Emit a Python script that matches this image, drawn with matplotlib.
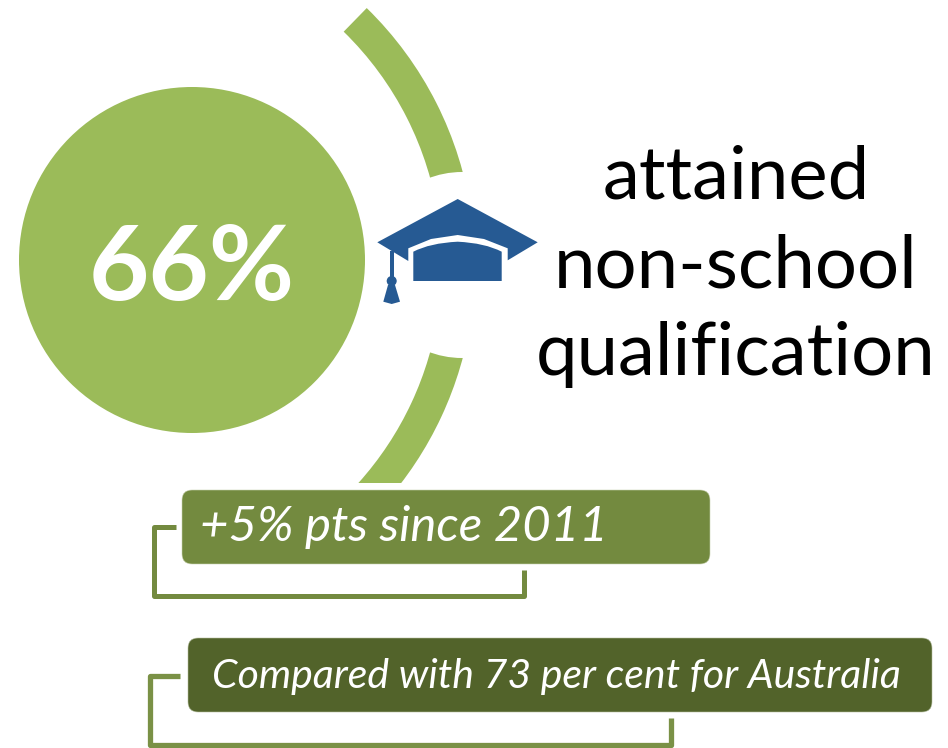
import matplotlib.pyplot as plt
from matplotlib.patches import Circle, Wedge, Polygon, FancyBboxPatch, Rectangle, PathPatch
from matplotlib.path import Path

# values and labels
share = 66
change_pts = 5
change_year = 2011
australia = 73
headline = ["attained", "non-school", "qualification"]

plt.rcParams['font.family'] = ['Lato', 'DejaVu Sans']

GREEN = '#9BBB59'
MID = '#738A3F'
DARK = '#52632A'
LINE2 = '#7A9146'
BLUE = '#265A93'

# axes in pixels of the picture, y going down
fig = plt.figure(figsize=(9.48, 7.48), dpi=100)
ax = fig.add_axes([0, 0, 1, 1])
ax.set_xlim(0, 948)
ax.set_ylim(748, 0)
ax.axis('off')

# big circle
ax.add_patch(Circle((192, 260), 173, color=GREEN, lw=0))
ax.text(192, 300, f"{share}%", color='white', fontsize=75, fontweight='bold',
        ha='center', va='baseline')

# the two arc pieces, a white disc cuts the ends round the cap
ax.add_patch(Wedge((116, 265), 359, -45.7, -8, width=33, color=GREEN, lw=0))
low = Wedge((116, 265), 359, 8, 42, width=33, color=GREEN, lw=0)
ax.add_patch(low)
low.set_clip_path(Rectangle((300, 250), 200, 233, transform=ax.transData))
ax.add_patch(Circle((462, 265), 93, color='white', lw=0))

# cap
cap = [(457.7, 199), (537.7, 242.3), (507.7, 260.3), (507.7, 248.3), (484, 239),
       (457.7, 235), (431, 239), (408.3, 248.3), (408.3, 261), (377.3, 242.3)]
ax.add_patch(Polygon(cap, color=BLUE, lw=0))
body = Path([(413.3, 251.7), (430, 243), (457.7, 241.7), (485, 243), (501.7, 251.7),
             (501.7, 281), (413.3, 281), (413.3, 251.7)],
            [Path.MOVETO, Path.CURVE3, Path.CURVE3, Path.CURVE3, Path.CURVE3,
             Path.LINETO, Path.LINETO, Path.CLOSEPOLY])
ax.add_patch(PathPatch(body, color=BLUE, lw=0))
ax.add_patch(Rectangle((390, 251), 4, 30, color=BLUE, lw=0))
ax.add_patch(Circle((391.7, 281), 5, color=BLUE, lw=0))
ax.add_patch(Polygon([(388, 285), (395, 285), (400, 301.7), (391.7, 304), (383.3, 301.7)],
                     color=BLUE, lw=0))

# headline
for y, line in zip([198, 287, 375], headline):
    ax.text(736, y, line, color='black', fontsize=53.5, ha='center', va='baseline')

# brackets behind the boxes
ax.plot([176, 154.5, 154.5, 524.5, 524.5], [526.5, 526.5, 596, 596, 570], color=MID, lw=3.6,
        solid_joinstyle='round', solid_capstyle='butt')
ax.plot([180, 150.5, 150.5, 671, 671], [675.5, 675.5, 744.5, 744.5, 718], color=LINE2, lw=3.8,
        solid_joinstyle='round', solid_capstyle='butt')

# boxes
ax.add_patch(FancyBboxPatch((192, 500), 508, 54, boxstyle='round,pad=10,rounding_size=10',
                            fc=MID, ec='#C9D2B0', lw=0.4))
ax.add_patch(FancyBboxPatch((198, 648), 724, 54, boxstyle='round,pad=10,rounding_size=10',
                            fc=DARK, ec='#B5BEA0', lw=0.4))
ax.text(200, 541, f"+{change_pts}% pts since {change_year}", color='white', fontsize=35.4,
        style='italic', ha='left', va='baseline')
ax.text(212, 688, f"Compared with {australia} per cent for Australia", color='white',
        fontsize=29.5, style='italic', ha='left', va='baseline')

fig.savefig('out.png', dpi=100)
